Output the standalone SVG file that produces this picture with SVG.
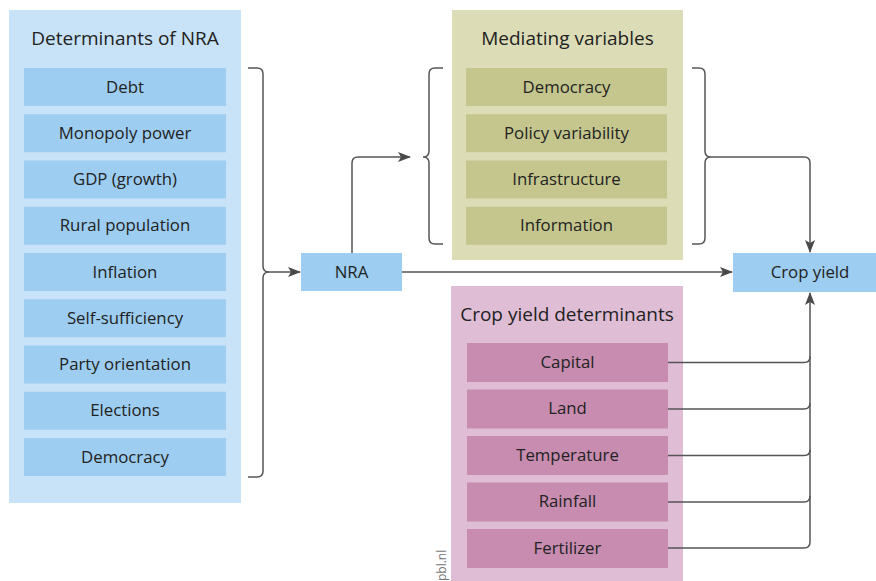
<svg xmlns="http://www.w3.org/2000/svg" width="876" height="581" viewBox="0 0 876 581">
<defs>
<style>
.t{font-family:"Open Sans","Noto Sans","Liberation Sans",sans-serif;fill:#222;text-anchor:middle}
.title{font-size:19px}
.item{font-size:16.8px}
.pb{fill:#c8e2f7}
.bb{fill:#9dcdf0}
.pg{fill:#dcddb7}
.bg{fill:#c4c68e}
.pp{fill:#dfbdd5}
.bp{fill:#c78caf}
.ln{fill:none;stroke:#555;stroke-width:1.5}
</style>
<marker id="ah" markerWidth="14" markerHeight="12" refX="12" refY="5" orient="auto" markerUnits="userSpaceOnUse">
<path d="M0,0 L13,5 L0,10 L3,5 z" fill="#4a4a4a"/>
</marker>
</defs>
<rect width="876" height="581" fill="#fff"/>

<g id="determinants">
<rect class="pb" x="9" y="10" width="232" height="493"/>
<text class="t title" x="125" y="45">Determinants of NRA</text>
<g id="det-debt"><rect class="bb" x="24" y="68" width="202" height="38"/><text class="t item" x="125" y="92.5">Debt</text></g>
<g id="det-monopoly"><rect class="bb" x="24" y="114.25" width="202" height="38"/><text class="t item" x="125" y="138.75">Monopoly power</text></g>
<g id="det-gdp"><rect class="bb" x="24" y="160.5" width="202" height="38"/><text class="t item" x="125" y="185">GDP (growth)</text></g>
<g id="det-rural"><rect class="bb" x="24" y="206.75" width="202" height="38"/><text class="t item" x="125" y="231.25">Rural population</text></g>
<g id="det-inflation"><rect class="bb" x="24" y="253" width="202" height="38"/><text class="t item" x="125" y="277.5">Inflation</text></g>
<g id="det-self"><rect class="bb" x="24" y="299.25" width="202" height="38"/><text class="t item" x="125" y="323.75">Self-sufficiency</text></g>
<g id="det-party"><rect class="bb" x="24" y="345.5" width="202" height="38"/><text class="t item" x="125" y="370">Party orientation</text></g>
<g id="det-elections"><rect class="bb" x="24" y="391.75" width="202" height="38"/><text class="t item" x="125" y="416.25">Elections</text></g>
<g id="det-democracy"><rect class="bb" x="24" y="438" width="202" height="38"/><text class="t item" x="125" y="462.5">Democracy</text></g>
</g>

<g id="mediating">
<rect class="pg" x="452" y="10" width="231" height="250"/>
<text class="t title" x="567.5" y="45">Mediating variables</text>
<g id="med-democracy"><rect class="bg" x="466" y="68" width="201" height="38"/><text class="t item" x="566.5" y="92.5">Democracy</text></g>
<g id="med-policy"><rect class="bg" x="466" y="114.25" width="201" height="38"/><text class="t item" x="566.5" y="138.75">Policy variability</text></g>
<g id="med-infra"><rect class="bg" x="466" y="160.5" width="201" height="38"/><text class="t item" x="566.5" y="185">Infrastructure</text></g>
<g id="med-info"><rect class="bg" x="466" y="206.75" width="201" height="38"/><text class="t item" x="566.5" y="231.25">Information</text></g>
</g>

<g id="cropdet">
<rect class="pp" x="451" y="286" width="232" height="300"/>
<text class="t title" x="567" y="321">Crop yield determinants</text>
<g id="cd-capital"><rect class="bp" x="467" y="343" width="201" height="39"/><text class="t item" x="567.5" y="367.5">Capital</text></g>
<g id="cd-land"><rect class="bp" x="467" y="389.5" width="201" height="39"/><text class="t item" x="567.5" y="414">Land</text></g>
<g id="cd-temp"><rect class="bp" x="467" y="436" width="201" height="39"/><text class="t item" x="567.5" y="460.5">Temperature</text></g>
<g id="cd-rain"><rect class="bp" x="467" y="482.5" width="201" height="39"/><text class="t item" x="567.5" y="507">Rainfall</text></g>
<g id="cd-fert"><rect class="bp" x="467" y="529" width="201" height="39"/><text class="t item" x="567.5" y="553.5">Fertilizer</text></g>
</g>

<g id="nra"><rect class="bb" x="301" y="253" width="101" height="38"/><text class="t item" x="351.5" y="277.5">NRA</text></g>
<g id="cropyield"><rect class="bb" x="733" y="253" width="143" height="39"/><text class="t item" x="810" y="277.5">Crop yield</text></g>

<g id="connectors">
<path class="ln" d="M248,68 H257 Q263,68 263,74 V266 Q263,272 269,272 Q263,272 263,278 V471 Q263,477 257,477 H248"/>
<path class="ln" d="M268,272 H300" marker-end="url(#ah)"/>
<path class="ln" d="M352,253 V163 Q352,157 358,157 H410" marker-end="url(#ah)"/>
<path class="ln" d="M443,68 H435 Q429,68 429,74 V151 Q429,157 423,157 Q429,157 429,163 V238 Q429,244 435,244 H443"/>
<path class="ln" d="M692,68 H699 Q705,68 705,74 V151 Q705,157 711,157 Q705,157 705,163 V238 Q705,244 699,244 H692"/>
<path class="ln" d="M711,157 H804 Q810,157 810,163 V252" marker-end="url(#ah)"/>
<path class="ln" d="M402,272 H732" marker-end="url(#ah)"/>
<path class="ln" d="M668,362.5 H804 Q810,362.5 810,356.5"/>
<path class="ln" d="M668,409 H804 Q810,409 810,403"/>
<path class="ln" d="M668,455.5 H804 Q810,455.5 810,449.5"/>
<path class="ln" d="M668,502 H804 Q810,502 810,496"/>
<path class="ln" d="M668,548 H804 Q810,548 810,542 V293" marker-end="url(#ah)"/>
</g>

<text x="446" y="581" transform="rotate(-90 446 581)" font-family="Open Sans,Noto Sans,sans-serif" font-size="12" fill="#777">pbl.nl</text>
</svg>
